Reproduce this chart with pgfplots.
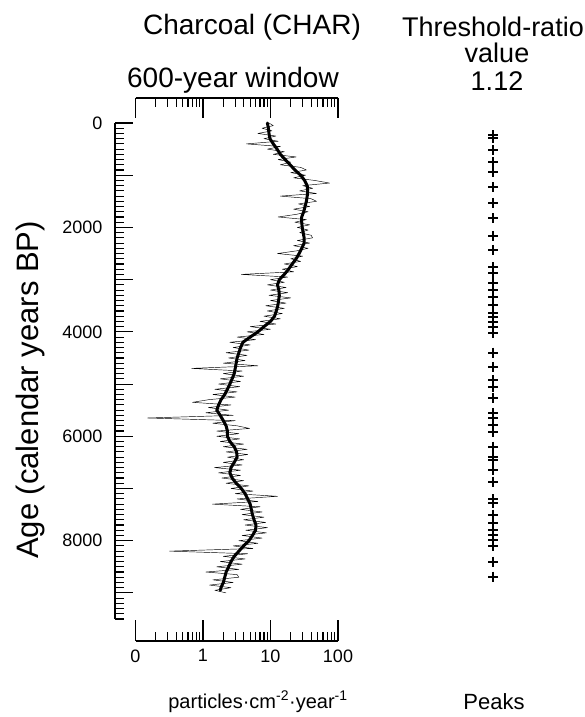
\documentclass[border=0pt]{standalone}
\usepackage{pgfplots}
\pgfplotsset{compat=1.18}
\usepackage{pgfplotstable}
\usepackage{fontspec}
\setmainfont{Liberation Sans}

% raw CHAR series (value, age)
\pgfplotstableread{
v a
9.5 0
11 50
7.5 100
10.5 150
6.5 200
12 250
8 300
13 350
4.4 400
14 450
9 500
16 550
11 600
24 650
13 700
20 750
14 800
28 850
34 900
20 950
33 1000
22 1050
45 1100
75 1150
30 1200
42 1250
27 1300
48 1350
14 1400
40 1450
48 1500
26 1550
38 1600
22 1650
36 1700
24 1750
13 1800
34 1850
23 1900
38 1950
25 2000
36 2050
27 2100
40 2150
42 2200
25 2250
38 2300
22 2350
36 2400
24 2450
12.7 2500
30 2550
20 2600
28 2650
16 2700
25 2750
15 2800
22 2850
3.7 2900
18 2950
10 3000
16 3050
9 3100
17 3150
10 3200
18 3250
9.5 3300
20 3350
10 3400
17 3450
8.5 3500
16 3550
9 3600
15 3650
8 3700
14 3750
7 3800
12 3850
5 3900
10 3950
4.5 4000
8 4050
3.2 4100
6 4150
2.5 4200
5 4250
2.8 4300
4.8 4350
2.2 4400
4.5 4450
2.4 4500
4.2 4550
2.0 4600
6.5 4650
0.68 4700
3.8 4750
2.0 4800
4.0 4850
1.8 4900
3.6 4950
1.7 5000
3.5 5050
1.5 5100
3.2 5150
1.4 5200
3.0 5250
1.2 5300
0.70 5350
2.6 5400
1.2 5450
2.4 5500
1.1 5550
2.8 5600
0.15 5650
3.0 5700
1.4 5750
3.2 5800
4.9 5850
1.6 5900
3.4 5950
1.6 6000
3.5 6050
1.8 6100
4.0 6150
2.0 6200
4.5 6250
2.2 6300
4.6 6350
2.3 6400
4.0 6450
2.0 6500
3.8 6550
1.48 6600
3.6 6650
1.7 6700
3.6 6750
1.9 6800
4.0 6850
2.2 6900
4.8 6950
2.6 7000
5.5 7050
3.0 7100
12.7 7150
3.2 7200
6.5 7250
1.38 7300
7.0 7350
3.6 7400
7.5 7450
3.8 7500
8.0 7550
4.0 7600
8.5 7650
4.2 7700
9.0 7750
4.3 7800
8.7 7850
3.8 7900
7.5 7950
3.4 8000
6.5 8050
2.8 8100
5.5 8150
0.32 8200
4.6 8250
2.0 8300
4.2 8350
1.8 8400
3.8 8450
1.6 8500
3.4 8550
1.1 8600
3.2 8650
3.4 8700
1.4 8750
2.8 8800
1.25 8850
2.6 8900
1.5 8950
2.2 9000
}\rawchar

% 600-year smoothed background (value, age)
\pgfplotstableread{
v a
9.0 0
9.3 100
9.5 200
9.8 300
11 400
12.5 500
14 600
16.5 700
19.5 800
23 900
28 1000
32 1100
35 1200
35.5 1300
35 1400
34 1500
32.5 1600
31 1700
29 1800
29 1900
29.5 2000
30.5 2100
31.5 2200
31.5 2300
29 2400
26.5 2500
24 2600
21 2700
18.5 2800
16 2900
13.5 3000
12.7 3100
13.3 3200
13.5 3300
13.2 3400
12.8 3500
12.2 3600
11.5 3700
10 3800
8 3900
6.5 4000
5 4100
3.9 4200
3.6 4300
3.4 4400
3.2 4500
3.1 4600
3.0 4700
2.9 4800
2.7 4900
2.5 5000
2.3 5100
2.1 5200
1.85 5300
1.7 5400
1.6 5500
1.8 5600
2.0 5700
2.2 5800
2.3 5900
2.3 6000
2.5 6100
2.9 6200
3.15 6300
3.2 6400
2.9 6500
2.6 6600
2.5 6700
2.7 6800
3.1 6900
3.7 7000
4.2 7100
4.6 7200
5.0 7300
5.2 7400
5.4 7500
5.7 7600
6.1 7700
6.0 7800
5.4 7900
4.8 8000
4.0 8100
3.4 8200
2.9 8300
2.6 8400
2.4 8500
2.2 8600
2.1 8700
2.0 8800
1.85 8900
1.8 8950
}\smoothchar

% identified peaks (age)
\pgfplotstableread{
x a
0.5 230
0.5 290
0.5 520
0.5 750
0.5 940
0.5 1230
0.5 1530
0.5 1820
0.5 2160
0.5 2430
0.5 2760
0.5 2870
0.5 3060
0.5 3200
0.5 3330
0.5 3480
0.5 3640
0.5 3710
0.5 3810
0.5 3900
0.5 4020
0.5 4400
0.5 4670
0.5 4920
0.5 5050
0.5 5260
0.5 5550
0.5 5650
0.5 5780
0.5 5910
0.5 6200
0.5 6390
0.5 6450
0.5 6640
0.5 6870
0.5 7210
0.5 7270
0.5 7500
0.5 7660
0.5 7790
0.5 7890
0.5 7980
0.5 8110
0.5 8400
0.5 8690
}\peaks

\begin{document}
\begin{tikzpicture}
\useasboundingbox (0pt,0pt) rectangle (585pt,717pt);
\pgfplotsset{
  every axis/.append style={
    scale only axis,
    /pgf/number format/assume math mode=true,
    axis line style={-, line width=1.2pt},
    tick style={black, line width=1.1pt},
    tick label style={font=\fontsize{18}{20}\selectfont},
  },
}

% age axis (offset to the left)
\begin{axis}[
  at={(115pt,98pt)}, anchor=south west,
  width=10pt, height=496pt,
  xmin=0, xmax=1, ymin=0, ymax=9500, y dir=reverse,
  axis x line=none, axis y line*=left,
  ytick align=inside,
  ytick={0,1000,...,9000},
  yticklabels={0,,2000,,4000,,6000,,8000,},
  minor ytick={0,100,...,9500},
  major tick length=18pt, minor tick length=9pt,
  yticklabel style={xshift=-9pt},
]
\end{axis}

% bottom CHAR axis
\begin{axis}[
  at={(135.5pt,76pt)}, anchor=south west,
  width=202.5pt, height=10pt,
  xmode=log, xmin=0.1, xmax=100, ymin=0, ymax=1,
  axis y line=none, axis x line*=bottom,
  xtick align=inside,
  xtick={0.1,1,10,100}, xticklabels={0,1,10,100},
  minor xtick={0.2,0.3,0.4,0.5,0.6,0.7,0.8,0.9,2,3,4,5,6,7,8,9,20,30,40,50,60,70,80,90},
  major tick length=21pt, minor tick length=9pt,
  xticklabel style={yshift=-5pt},
]
\end{axis}

% top axis
\begin{axis}[
  at={(135.5pt,609pt)}, anchor=south west,
  width=202.5pt, height=10pt,
  xmode=log, xmin=0.1, xmax=100, ymin=0, ymax=1,
  axis y line=none, axis x line*=top,
  xtick align=inside,
  xtick={0.1,1,10,100}, xticklabels={,,,},
  minor xtick={0.2,0.3,0.4,0.5,0.6,0.7,0.8,0.9,2,3,4,5,6,7,8,9,20,30,40,50,60,70,80,90},
  major tick length=20pt, minor tick length=9pt,
]
\end{axis}

% CHAR curves
\begin{axis}[
  at={(135.5pt,98pt)}, anchor=south west,
  width=202.5pt, height=496pt,
  xmode=log, xmin=0.1, xmax=100, ymin=0, ymax=9500, y dir=reverse,
  hide axis, clip=false,
]
\addplot[black, line width=0.45pt, line join=round] table[x=v, y=a] {\rawchar};
\addplot[black, line width=3pt, line join=round, line cap=round] table[x=v, y=a] {\smoothchar};
\end{axis}

% peaks
\begin{axis}[
  at={(483pt,98pt)}, anchor=south west,
  width=20pt, height=496pt,
  xmin=0, xmax=1, ymin=0, ymax=9500, y dir=reverse,
  hide axis, clip=false,
]
\addplot[only marks, mark=+, mark size=5pt, mark options={line width=2pt, black}] table[x=x, y=a] {\peaks};
\end{axis}

\node[anchor=base, font=\fontsize{28}{30}\selectfont] at (252pt,682pt) {Charcoal (CHAR)};
\node[anchor=base, font=\fontsize{28}{30}\selectfont] at (233pt,629pt) {600-year window};
\node[anchor=base, font=\fontsize{27}{29}\selectfont] at (493pt,680pt) {Threshold-ratio};
\node[anchor=base, font=\fontsize{27}{29}\selectfont] at (497pt,654pt) {value};
\node[anchor=base, font=\fontsize{27}{29}\selectfont] at (497pt,626pt) {1.12};
\node[anchor=base, font=\fontsize{22}{24}\selectfont] at (494pt,8pt) {Peaks};
\node[anchor=base, font=\fontsize{20}{22}\selectfont] at (258pt,9pt) {particles·cm\textsuperscript{-2}·year\textsuperscript{-1}};
\node[anchor=base, rotate=90, font=\fontsize{31}{33}\selectfont] at (38pt,327pt) {Age (calendar years BP)};
\end{tikzpicture}
\end{document}
